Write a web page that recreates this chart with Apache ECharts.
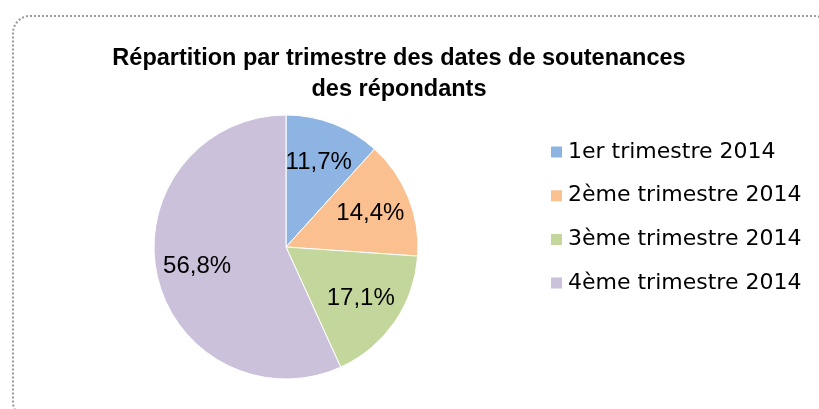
<!DOCTYPE html>
<html>
<head>
<meta charset="utf-8">
<script src="https://cdn.jsdelivr.net/npm/echarts@6/dist/echarts.min.js"></script>
<style>
	html, body { margin: 0; padding: 0; background: #fff; }
	#wrap { position: relative; width: 819px; height: 409px; overflow: hidden; }
	#chart { width: 819px; height: 409px; }
	/* cadre pointillé arrondi */
	#frame {
		position: absolute; left: 12px; top: 15px; width: 820px; height: 405px;
		border: 2px dotted #999; border-radius: 18px; box-sizing: border-box; pointer-events: none;
	}
</style>
</head>
<body>
<div id="wrap">
	<div id="chart"></div>
	<div id="frame"></div>
</div>
<script>
// données
const categories = ["1er trimestre 2014", "2ème trimestre 2014", "3ème trimestre 2014", "4ème trimestre 2014"];
const values = [11.7, 14.4, 17.1, 56.8];
const colors = ["#8EB4E3", "#FAC090", "#C3D69B", "#CCC1DA"];

const seriesData = categories.map((name, i) => ({ name: name, value: values[i] }));

const chart = echarts.init(document.getElementById("chart"));

const option = {
	animation: false,
	color: colors,
	title: {
		text: "Répartition par trimestre des dates de soutenances\ndes répondants",
		left: 399,
		top: 43,
		padding: 0,
		textAlign: "center",
		textStyle: {
			fontFamily: "Liberation Sans",
			fontSize: 23.5,
			fontWeight: "bold",
			color: "#000",
			lineHeight: 31,
		},
	},
	legend: {
		orient: "vertical",
		left: 549,
		top: 141,
		padding: 0,
		itemWidth: 13,
		itemHeight: 13,
		itemGap: 21.7,
		icon: "rect",
		data: categories,
		textStyle: {
			fontFamily: "DejaVu Sans",
			fontSize: 22,
			lineHeight: 22,
			color: "#000",
		},
	},
	series: [
		{
			// secteurs visibles
			type: "pie",
			center: [286, 247],
			radius: [0, 132],
			startAngle: 90,
			clockwise: true,
			silent: true,
			itemStyle: { borderColor: "#fff", borderWidth: 1 },
			label: { show: false },
			labelLine: { show: false },
			data: seriesData,
		},
		{
			// anneau transparent pour placer les étiquettes
			type: "pie",
			center: [286, 247],
			radius: [44, 132],
			startAngle: 90,
			clockwise: true,
			silent: true,
			itemStyle: { color: "transparent" },
			label: {
				show: true,
				position: "inside",
				fontFamily: "Liberation Sans",
				fontSize: 24,
				color: "#000",
				formatter: (p) => p.value.toFixed(1).replace(".", ",") + "%",
			},
			labelLine: { show: false },
			data: seriesData,
		},
	],
};

chart.setOption(option);
</script>
</body>
</html>
